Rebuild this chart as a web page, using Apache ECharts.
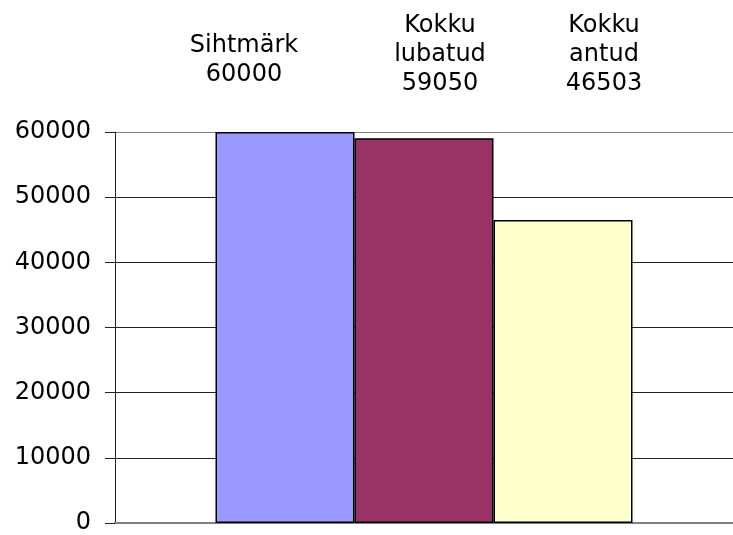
<!DOCTYPE html>
<html><head><meta charset="utf-8">
<script src="https://cdn.jsdelivr.net/npm/echarts@6/dist/echarts.min.js"></script>
<style>html,body{margin:0;padding:0;background:#fff;overflow:hidden}#c{width:733px;height:535px}</style>
</head><body><div id="c"></div>
<script>
const categories = [''];
const seriesNames = [['Sihtmärk'], ['Kokku', 'lubatud'], ['Kokku', 'antud']];
const seriesValues = [60000, 59050, 46503];
const seriesColors = ['#9999FF', '#993366', '#FFFFCC'];
const yTicks = [0, 10000, 20000, 30000, 40000, 50000, 60000];

const FONT = 'DejaVu Sans';
const labelX = [244, 440, 604];
const labelY = [60, 54.5, 54.5];

const chart = echarts.init(document.getElementById('c'), null, {renderer: 'canvas'});
chart.setOption({
  animation: false,
  grid: {left: 115, width: 624, top: 132, height: 397},
  xAxis: {
    type: 'category', data: categories,
    axisLine: {show: true, lineStyle: {color: '#808080', width: 2}},
    axisTick: {show: false}, axisLabel: {show: false}
  },
  yAxis: {
    type: 'value', min: yTicks[0], max: yTicks[yTicks.length - 1], interval: 10000,
    axisLine: {show: true, lineStyle: {color: '#222', width: 1}},
    axisTick: {show: true, length: 10, lineStyle: {color: '#222'}},
    axisLabel: {fontFamily: FONT, fontSize: 24, color: '#000', margin: 24, formatter: v => String(v)},
    splitLine: {show: true, lineStyle: {color: ['#808080', '#222', '#222', '#222', '#222', '#222', '#808080'], width: 1}}
  },
  series: seriesValues.map((v, i) => ({
    type: 'bar', name: seriesNames[i].join(' '), data: [v],
    barWidth: 139, barGap: '0%',
    itemStyle: {color: seriesColors[i], borderColor: '#000', borderWidth: 1.5}
  })),
  graphic: seriesNames.map((n, i) => ({
    type: 'text', x: labelX[i], y: labelY[i],
    style: {
      text: n.concat([String(seriesValues[i])]).join('\n'),
      font: '24px "' + FONT + '"', fill: '#000',
      align: 'center', verticalAlign: 'middle', lineHeight: 29
    }
  }))
});
</script></body></html>
